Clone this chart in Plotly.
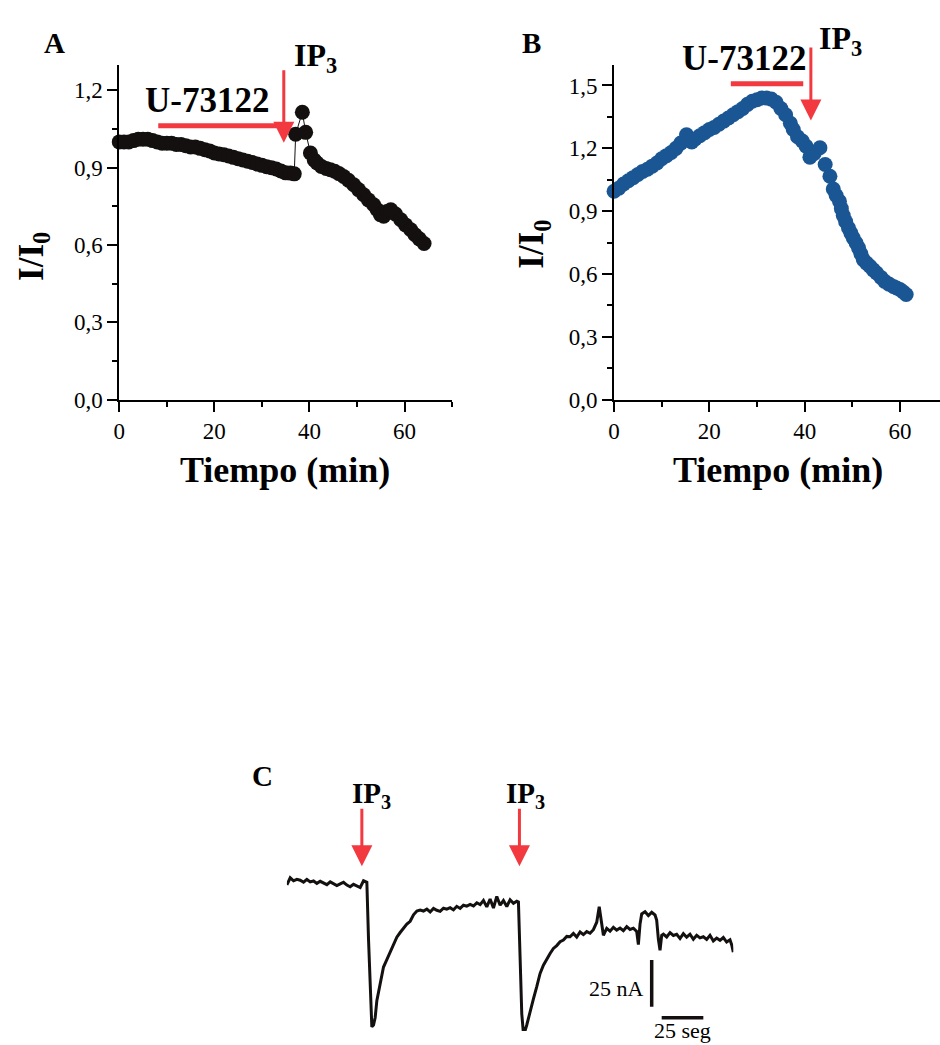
import plotly.graph_objects as go

# ---------------- data ----------------
# Panel A (black): time (min) and I/I0
a_time = [0, 1, 2, 3, 4, 5, 6, 7, 8, 9, 10, 11, 12, 13, 14, 15, 16, 17, 18, 19,
          20, 21, 22, 23, 24, 25, 26, 27, 28, 29, 30, 31, 32, 33, 34, 35, 36,
          36.8, 37.1, 38.5, 39.2, 40.2, 41, 41.6, 42.5, 43.5, 44.4, 45.3, 46.2,
          47.2, 48.2, 49.3, 50.3, 51.4, 52.4, 53.5, 54.2, 54.9, 55.6, 56.3, 57.1,
          58.1, 59.2, 60.2, 61.3, 62.2, 63.1, 64.1]
a_ratio = [1.00, 1.00, 1.00, 1.005, 1.01, 1.01, 1.01, 1.005, 1.00, 0.995, 0.995,
           0.995, 0.99, 0.99, 0.985, 0.98, 0.98, 0.975, 0.97, 0.965, 0.957, 0.953,
           0.95, 0.945, 0.94, 0.935, 0.93, 0.925, 0.92, 0.914, 0.909, 0.904, 0.90,
           0.895, 0.887, 0.88, 0.879, 0.876,
           1.03, 1.115, 1.037, 0.957, 0.93, 0.918, 0.905, 0.897, 0.892, 0.886,
           0.877, 0.866, 0.851, 0.834, 0.815, 0.795, 0.775, 0.756, 0.738, 0.718,
           0.712, 0.73, 0.737, 0.72, 0.698, 0.678, 0.659, 0.64, 0.624, 0.606]

# Panel B (blue)
b_time = [0, 1, 2, 3, 4, 5, 6, 7, 8, 9, 10, 11, 12, 13, 14, 15.2, 16.3, 17, 18,
          19, 20, 21, 22, 23, 24, 25, 26, 27, 28, 29, 30, 31, 32, 33, 34, 35, 36,
          37, 37.6, 38.5, 39.5, 40.3, 41.1, 42, 43.2, 44.3, 45.3, 46, 46.6, 47.3,
          47.7, 48.1, 48.6, 49.2, 49.7, 50.2, 50.8, 51.3, 51.8, 52.3, 53, 53.7,
          54.4, 55.1, 56, 56.8, 57.7, 58.6, 59.3, 60, 60.7, 61.3]
b_ratio = [0.995, 1.01, 1.03, 1.045, 1.06, 1.075, 1.09, 1.10, 1.115, 1.13, 1.15,
           1.165, 1.18, 1.20, 1.225, 1.265, 1.23, 1.245, 1.26, 1.275, 1.29, 1.30,
           1.315, 1.33, 1.345, 1.36, 1.375, 1.39, 1.41, 1.425, 1.432, 1.44, 1.44,
           1.435, 1.42, 1.39, 1.36, 1.32, 1.29, 1.255, 1.235, 1.21, 1.158, 1.175,
           1.203, 1.123, 1.067, 1.006, 0.975, 0.947, 0.912, 0.879, 0.85, 0.82,
           0.795, 0.772, 0.748, 0.725, 0.697, 0.669, 0.652, 0.637, 0.62, 0.605,
           0.584, 0.565, 0.552, 0.541, 0.533, 0.526, 0.514, 0.502]

# U-73122 application intervals and IP3 injection times (min)
a_u73122 = [8.2, 33.3]
b_u73122 = [24.5, 39.7]
a_ip3 = 34.6
b_ip3 = 41.3

# Panel C: current trace (time in s, current in nA relative to start)
c_time = [0, 2, 4, 6, 8, 10, 12, 14, 16, 18, 20, 22, 24, 26, 28, 30, 32, 34, 36,
          38, 40, 42, 44, 46, 48, 49, 50, 51, 52, 53, 54, 56, 58, 60, 62, 64, 66,
          68, 70, 72, 74, 76, 78, 80, 82, 84, 86, 88, 90, 92, 94, 96, 98, 100,
          102, 104, 106, 108, 110, 112, 114, 116, 118, 120, 122, 124, 126, 128,
          130, 132, 134, 136, 138, 139, 140, 141, 142, 143, 144, 146, 148, 150,
          152, 154, 156, 158, 160, 162, 164, 166, 168, 170, 172, 174, 176, 178,
          180, 182, 184, 186, 187.5, 189, 190, 192, 194, 196, 198, 200, 202, 204,
          206, 208, 210, 211, 212, 213, 215, 217, 219, 221, 222, 223, 224, 225,
          226, 228, 230, 232, 234, 236, 238, 240, 242, 244, 246, 248, 250, 252,
          254, 256, 258, 260, 262, 264, 266, 267, 268]
c_current = [-1.0, 2.8, 1.2, 2.0, 1.5, 0.4, 1.9, 0.6, 1.1, -0.2, 0.9, 0.1, -0.9,
             0.6, -0.3, -1.4, -0.5, 0.4, -1.1, -2.0, -0.7, -1.6, -2.4, 1.2, 0.4,
             -30, -60, -77, -76, -72, -63, -53, -45, -41, -37, -33, -29, -26.5,
             -24, -22, -20.5, -17, -15, -14.5, -15.0, -14.0, -15.5, -13.6, -14.6,
             -15.2, -13.5, -14.0, -13.2, -14.4, -12.5, -13.6, -11.9, -12.4, -11.5,
             -12.3, -10.6, -11.6, -9.4, -12.8, -8.6, -13.4, -7.2, -11.9, -9.4,
             -12.6, -9.0, -10.9, -9.8, -10.2, -40, -70, -80.5, -79, -76, -69.7,
             -62, -55.5, -48.4, -44, -40.5, -37.7, -35, -33.5, -31.4, -30.5, -28.6,
             -28.8, -27.0, -28.9, -26.2, -27.6, -26.0, -26.9, -25.0, -21, -12.7,
             -22, -28, -24.3, -25.8, -23.7, -25.2, -24.1, -25.5, -23.4, -24.9,
             -24.2, -26, -33, -22, -16.6, -15.4, -17.4, -15.7, -17.1, -20, -30,
             -36, -28, -27.4, -28.9, -26.6, -28.1, -27.5, -29.7, -27.1, -29.0,
             -27.4, -30.1, -28.0, -29.4, -28.8, -30.2, -28.0, -31.0, -29.5, -30.7,
             -29.2, -31.6, -30.4, -33, -37]
c_ip3 = [45, 139.6]
scale_nA = 25
scale_s = 25

# ---------------- layout helpers ----------------
W, H = 940, 1045
# target-picture pixel -> figure pixel (small measured correction of the capture)
SX, OX = 0.994, 5.7
SY, OY = 0.987, 0.5
def fx(x):
    return (x - OX) / SX
def fy(y):
    return (y - OY) / SY
def px(x):
    return min(max(fx(x) / W, 0.0), 1.0)
def py(y):
    return min(max(1 - fy(y) / H, 0.0), 1.0)

FONT = "Liberation Serif"
RED = "#f2393f"
BLACK = "#141010"
BLUE = "#1b5694"

fig = go.Figure()

fig.add_trace(go.Scatter(x=a_time, y=a_ratio, mode="lines+markers",
                         line=dict(color=BLACK, width=1),
                         marker=dict(size=15, color=BLACK),
                         cliponaxis=False, xaxis="x", yaxis="y", showlegend=False))
fig.add_trace(go.Scatter(x=b_time, y=b_ratio, mode="markers",
                         marker=dict(size=15, color=BLUE),
                         cliponaxis=False, xaxis="x2", yaxis="y2", showlegend=False))
fig.add_trace(go.Scatter(x=c_time, y=c_current, mode="lines",
                         line=dict(color=BLACK, width=3),
                         cliponaxis=False, xaxis="x3", yaxis="y3", showlegend=False))

# red U-73122 bars
fig.add_trace(go.Scatter(x=a_u73122, y=[1.063, 1.063], mode="lines",
                         line=dict(color=RED, width=5), cliponaxis=False,
                         xaxis="x", yaxis="y", showlegend=False))
fig.add_trace(go.Scatter(x=b_u73122, y=[1.508, 1.508], mode="lines",
                         line=dict(color=RED, width=5), cliponaxis=False,
                         xaxis="x2", yaxis="y2", showlegend=False))

# scale bars in C
sb_t = 219
sb_y = -41.2
fig.add_trace(go.Scatter(x=[sb_t, sb_t], y=[sb_y, sb_y - scale_nA], mode="lines",
                         line=dict(color=BLACK, width=3.5), cliponaxis=False,
                         xaxis="x3", yaxis="y3", showlegend=False))
hb_t = 225
hb_y = -72.1
fig.add_trace(go.Scatter(x=[hb_t, hb_t + scale_s], y=[hb_y, hb_y], mode="lines",
                         line=dict(color=BLACK, width=3.5), cliponaxis=False,
                         xaxis="x3", yaxis="y3", showlegend=False))

tickfont = dict(family=FONT, size=23, color="black")
def axis_common():
    return dict(showline=True, linecolor="black", linewidth=2, ticks="outside",
                ticklen=10, tickwidth=2, tickcolor="black", showgrid=False,
                zeroline=False, tickfont=tickfont, fixedrange=True)

minor_style = dict(ticklen=5, tickwidth=2, ticks="outside", tickcolor="black")
xa = axis_common(); xa.update(domain=[px(119), px(452)], range=[0, 70], dtick=20,
                              tick0=0, minor=dict(dtick=10, **minor_style), anchor="y")
ya = axis_common(); ya.update(domain=[py(400), py(65)], range=[0, 1.3], dtick=0.3,
                              tick0=0, tickformat=".1f",
                              minor=dict(dtick=0.15, **minor_style), anchor="x")
xb = axis_common(); xb.update(domain=[px(614), px(940)],
                              range=[0, (940 - 614) / 4.767], dtick=20,
                              tick0=0, minor=dict(dtick=10, **minor_style), anchor="y2")
yb = axis_common(); yb.update(domain=[py(400), py(65)], range=[0, 1.6], dtick=0.3,
                              tick0=0, tickformat=".1f",
                              minor=dict(dtick=0.15, **minor_style), anchor="x2")

# panel C axes: target pixel 883 is 0 nA, 1.867 px per nA
c_top, c_bot = 860, 1031
fig.update_layout(
    width=W, height=H, margin=dict(l=0, r=0, t=0, b=0),
    paper_bgcolor="white", plot_bgcolor="rgba(0,0,0,0)",
    separators=",.",
    font=dict(family=FONT, color="black"),
    xaxis=xa, yaxis=ya, xaxis2=xb, yaxis2=yb,
    xaxis3=dict(domain=[px(286.7), px(733.3)], range=[0, 268], visible=False,
                anchor="y3", fixedrange=True),
    yaxis3=dict(domain=[py(c_bot), py(c_top)],
                range=[-(c_bot - 883) / 1.867, (883 - c_top) / 1.867],
                visible=False, anchor="x3", fixedrange=True),
)

ann = []
def text(x, y, s, size, xanchor="center", yanchor="middle", angle=0):
    ann.append(dict(x=px(x), y=py(y), xref="paper", yref="paper", text=s,
                    showarrow=False, xanchor=xanchor, yanchor=yanchor,
                    textangle=angle, font=dict(family=FONT, size=size, color="black")))

# panel letters
text(54, 43, "<b>A</b>", 29)
text(531, 43, "<b>B</b>", 29)
text(262, 776, "<b>C</b>", 29)
# axis titles
text(285, 470, "<b>Tiempo (min)</b>", 36)
text(778, 470, "<b>Tiempo (min)</b>", 36)
text(33, 257, "<b>I/I<sub>0</sub></b>", 35, angle=-90)
text(534, 245, "<b>I/I<sub>0</sub></b>", 35, angle=-90)
# drug labels
text(207, 101, "<b>U-73122</b>", 35)
text(744, 59, "<b>U-73122</b>", 35)
text(292, 58, "<b>IP<sub>3</sub></b>", 32, xanchor="left")
text(817, 41, "<b>IP<sub>3</sub></b>", 32, xanchor="left")
text(350, 795, "<b>IP<sub>3</sub></b>", 29, xanchor="left")
text(504, 795, "<b>IP<sub>3</sub></b>", 29, xanchor="left")
# scale bar labels
text(646, 988, "25 nA", 22, xanchor="right")
text(682, 1030, "25 seg", 22)

# arrows
def arrow(xref, yref, x, y0, y1):
    ann.append(dict(x=x, y=y1, ax=x, ay=y0, xref=xref, yref=yref, axref=xref,
                    ayref=yref, showarrow=True, arrowhead=2, arrowsize=1.4,
                    arrowwidth=3, arrowcolor=RED, text=""))
arrow("x", "y", a_ip3, 1.284, 0.997)
arrow("x2", "y2", b_ip3, 1.688, 1.333)
for t in c_ip3:
    arrow("x3", "y3", t, 40.5, 9.0)

fig.update_layout(annotations=ann)
# remove the default page margin so the figure fills the window exactly
fig.write_html("out.html", config={"displayModeBar": False},
               post_script="document.body.style.margin='0';"
                           "document.body.style.overflow='hidden';")
